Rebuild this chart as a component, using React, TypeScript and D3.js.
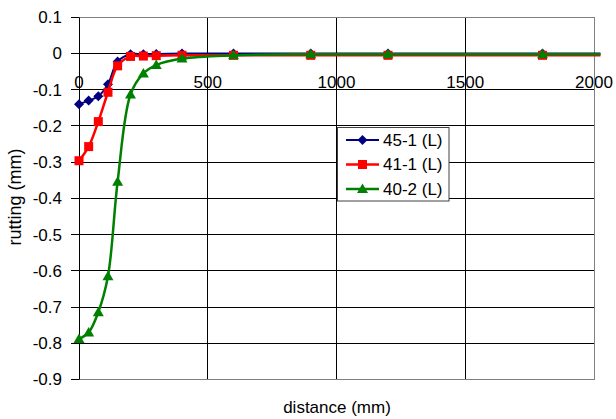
import React from 'react';
import * as d3 from 'd3';

// distance (mm) shared by all three series
const DISTANCE = [0, 37.5, 75, 112.5, 150, 200, 250, 300, 400, 600, 900, 1200, 1800, 2025];
const RUT_45_1 = [-0.14, -0.13, -0.118, -0.085, -0.022, -0.002, -0.002, -0.001, 0, 0, 0, 0, 0, 0];
const RUT_41_1 = [-0.296, -0.257, -0.188, -0.107, -0.034, -0.008, -0.007, -0.006, -0.005, -0.005, -0.005, -0.005, -0.005, -0.005];
const RUT_40_2 = [-0.788, -0.77, -0.714, -0.615, -0.354, -0.113, -0.055, -0.032, -0.014, -0.005, -0.002, -0.002, -0.002, -0.002];
const SERIES_NAMES = ['45-1 (L)', '41-1 (L)', '40-2 (L)'];
const X_TICKS = [0, 500, 1000, 1500, 2000];
const Y_TICKS = [0.1, 0, -0.1, -0.2, -0.3, -0.4, -0.5, -0.6, -0.7, -0.8, -0.9];

const WIDTH = 616;
const HEIGHT = 419;
const LEFT = 79;
const RIGHT = 594;
const TOP = 17.3;
const BOTTOM = 379.5;
const FONT = 'Arial, "Liberation Sans", sans-serif';

const x = d3.scaleLinear().domain([0, 2000]).range([LEFT, RIGHT]);
const y = d3.scaleLinear().domain([-0.9, 0.1]).range([BOTTOM, TOP]);
// crisp 1px grid lines
const snap = (v: number) => Math.floor(v) + 0.5;

const styles = [
  { color: '#000080', marker: 'diamond', width: 2 },
  { color: '#ff0000', marker: 'square', width: 2.5 },
  { color: '#008000', marker: 'triangle', width: 2.5 },
];

const Marker = ({ kind, cx, cy, color }) => {
  if (kind === 'diamond') {
    return <path d={`M${cx},${cy - 5}L${cx + 5},${cy}L${cx},${cy + 5}L${cx - 5},${cy}Z`} fill={color} />;
  }
  if (kind === 'square') {
    return <rect x={cx - 4.5} y={cy - 4.5} width={9} height={9} fill={color} />;
  }
  return <path d={`M${cx},${cy - 5.5}L${cx + 5.5},${cy + 4}L${cx - 5.5},${cy + 4}Z`} fill={color} />;
};

const line = d3.line<[number, number]>()
  .x(d => x(d[0]))
  .y(d => y(d[1]))
  .curve(d3.curveCatmullRom);

export default function App() {
  const series = [RUT_45_1, RUT_41_1, RUT_40_2].map(vals => DISTANCE.map((d, i) => [d, vals[i]] as [number, number]));
  const y0 = y(0);
  const top = snap(TOP), bottom = snap(BOTTOM), left = snap(LEFT), right = snap(RIGHT);

  return (
    <svg width={WIDTH} height={HEIGHT} style={{ position: 'absolute', left: 0, top: 0, background: '#fff' }}
      fontFamily={FONT}>
      {/* grid */}
      {Y_TICKS.map(t => (
        <g key={'y' + t}>
          <line x1={LEFT - 8} x2={right} y1={snap(y(t))} y2={snap(y(t))} stroke="#000" strokeWidth={1} />
          <text x={62} y={y(t)} dy="0.35em" textAnchor="end" fontSize={17}>{t}</text>
        </g>
      ))}
      {X_TICKS.map(t => (
        <g key={'x' + t}>
          <line x1={snap(x(t))} x2={snap(x(t))} y1={top} y2={bottom} stroke="#000" strokeWidth={1} />
          <text x={x(t)} y={y0 + 34} textAnchor="middle" fontSize={17}>{t}</text>
        </g>
      ))}
      <rect x={left} y={top} width={right - left} height={bottom - top} fill="none" stroke="#808080" strokeWidth={1} />
      <line x1={left} x2={left} y1={top} y2={bottom} stroke="#000" strokeWidth={1} />

      {/* series, drawn back to front */}
      {series.map((s, i) => (
        <g key={'s' + i}>
          <path d={line(s)} fill="none" stroke={styles[i].color} strokeWidth={styles[i].width} />
          {s.filter(p => p[0] <= 2000).map((p, j) => (
            <Marker key={j} kind={styles[i].marker} cx={x(p[0])} cy={y(p[1])} color={styles[i].color} />
          ))}
        </g>
      ))}

      {/* legend */}
      <rect x={337.5} y={127.5} width={111.5} height={73.5} fill="#fff" stroke="#404040" strokeWidth={1} />
      {SERIES_NAMES.map((name, i) => {
        const ly = 140 + i * 24.5;
        return (
          <g key={name}>
            <line x1={346} x2={379} y1={ly} y2={ly} stroke={styles[i].color} strokeWidth={styles[i].width} />
            <Marker kind={styles[i].marker} cx={362.5} cy={ly} color={styles[i].color} />
            <text x={383} y={ly} dy="0.35em" fontSize={17}>{name}</text>
          </g>
        );
      })}

      {/* axis titles */}
      <text x={337} y={413} textAnchor="middle" fontSize={17}>distance (mm)</text>
      <text transform={`translate(21,197) rotate(-90)`} textAnchor="middle" fontSize={18}>rutting (mm)</text>
    </svg>
  );
}
